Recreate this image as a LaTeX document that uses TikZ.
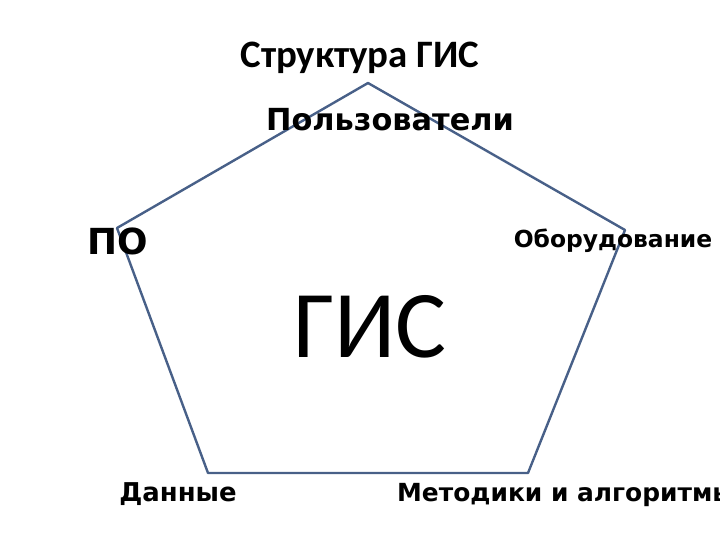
\documentclass[tikz,border=0pt]{standalone}
\usepackage{fontspec}
\setmainfont{Carlito}
\newfontfamily\labelfont{DejaVu Sans}
\definecolor{edgeblue}{RGB}{72,96,136}
\tikzset{
  lbl/.style={anchor=base, inner sep=0pt, font=\labelfont\bfseries\fontsize{#1}{#1}\selectfont},
}
\begin{document}
\begin{tikzpicture}[x=1bp, y=-1bp, line join=round, line cap=round]
				\useasboundingbox (0,0) rectangle (720,540);
				\clip (0,0) rectangle (720,540);
				\path
				(368,83) coordinate (U)
				(625,230) coordinate (Ob)
				(528,473) coordinate (M)
				(208,473) coordinate (D)
				(117,228) coordinate (P)
				;
				\draw[edgeblue, line width=2.4bp] (U)--(Ob)--(M)--(D)--(P)--cycle;
				
				\node (title) at (360,68) [anchor=base, inner sep=0pt, font=\bfseries\fontsize{39}{39}\selectfont] {Структура ГИС};
				\node (gis) at (370,357) [anchor=base, inner sep=0pt, font=\fontsize{96}{96}\selectfont] {ГИС};
				
				\node (users) at (390,131) [lbl=30.5] {Пользователи};
				\node (po) at (118,255) [lbl=36] {ПО};
				\node (hw) at (613,248) [lbl=23.5] {Оборудование};
				\node (data) at (178,501) [lbl=26] {Данные};
				\node (meth) at (397,501) [lbl=25, anchor=base west] {Методики и алгоритмы};
\end{tikzpicture}
\end{document}
